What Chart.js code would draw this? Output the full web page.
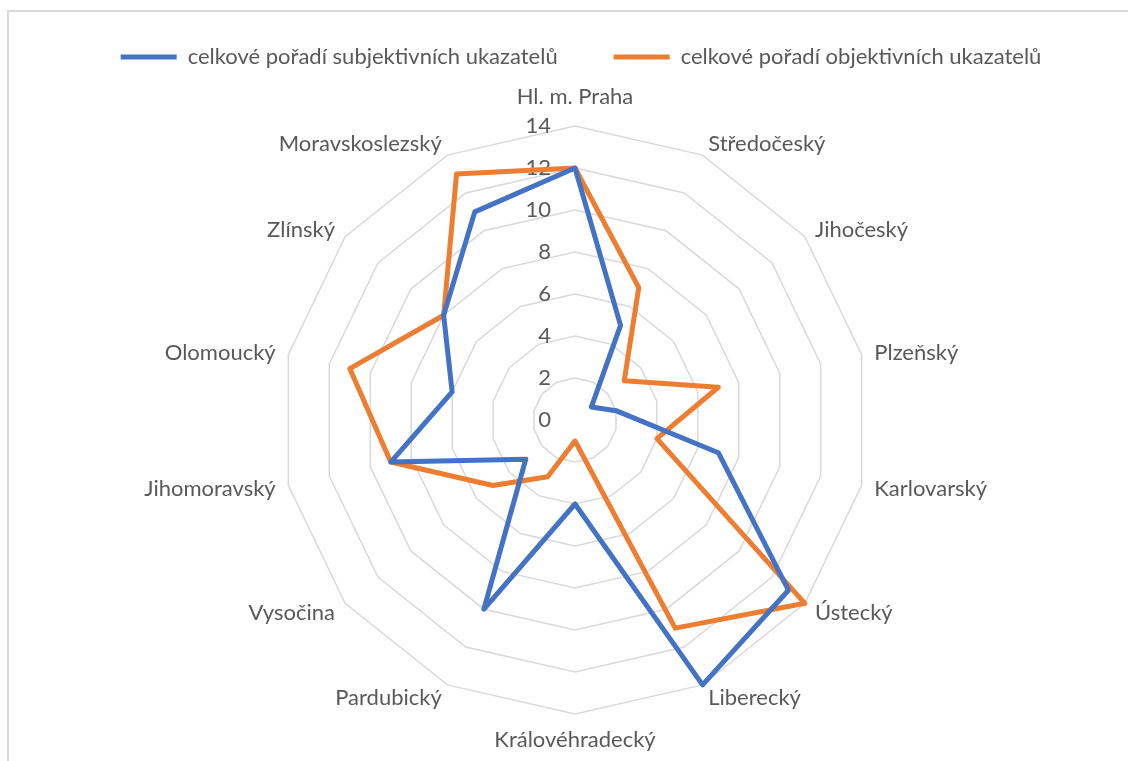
<!DOCTYPE html>
<html>
<head>
<meta charset="utf-8">
<script src="https://cdn.jsdelivr.net/npm/chart.js@4"></script>
<style>
    body { margin: 0; background: #fff; }
    #frame { position: absolute; left: 7px; top: 10px; width: 1200px; height: 800px; border: 2px solid #d9d9d9; }
    #wrap { position: absolute; left: 0; top: 0; width: 1128px; height: 761px; }
</style>
</head>
<body>
<div id="frame"></div>
<div id="wrap"><canvas id="radarChart" width="1128" height="761"></canvas></div>
<script>
// Regions, clockwise from the top
const regions = ['Hl. m. Praha', 'Středočeský', 'Jihočeský', 'Plzeňský', 'Karlovarský', 'Ústecký', 'Liberecký',
    'Královéhradecký', 'Pardubický', 'Vysočina', 'Jihomoravský', 'Olomoucký', 'Zlínský', 'Moravskoslezský'];
const subjective = [12, 5, 1, 2, 7, 13, 14, 4, 10, 3, 9, 6, 8, 11];
const objective = [12, 7, 3, 7, 4, 14, 11, 1, 3, 5, 9, 11, 8, 13];
const tickValues = [0, 2, 4, 6, 8, 10, 12, 14];

const fontFamily = 'Lato, "Open Sans", sans-serif';
const textColor = '#595959';

// tick labels sit left of the vertical axis, under the series lines
const tickLabels = {
    id: 'tickLabels',
    beforeDatasetsDraw(chart) {
        const r = chart.scales.r;
        const ctx = chart.ctx;
        ctx.save();
        ctx.font = '22px ' + fontFamily;
        ctx.fillStyle = textColor;
        ctx.textAlign = 'right';
        ctx.textBaseline = 'middle';
        tickValues.forEach(v => {
            ctx.fillText(String(v), r.xCenter - 24, r.yCenter - r.getDistanceFromCenterForValue(v));
        });
        ctx.restore();
    }
};

// category labels placed the Excel way: vertically centred on the spoke
const regionLabels = {
    id: 'regionLabels',
    afterDraw(chart) {
        const r = chart.scales.r;
        const ctx = chart.ctx;
        ctx.save();
        ctx.font = '22px ' + fontFamily;
        ctx.fillStyle = textColor;
        ctx.textBaseline = 'middle';
        const half = regions.length / 2;
        regions.forEach((name, i) => {
            if (i === 0 || i === half) {
                const p = r.getPointPosition(i, r.drawingArea + (i === 0 ? 29 : 26));
                ctx.textAlign = 'center';
                ctx.fillText(name, p.x, p.y);
            } else {
                const p = r.getPointPosition(i, r.drawingArea + 13);
                ctx.textAlign = i < half ? 'left' : 'right';
                ctx.fillText(name, p.x, p.y + 1);
            }
        });
        ctx.restore();
    }
};

// fixed legend block height, legend nudged a little to the right
const legendLayout = {
    id: 'legendLayout',
    beforeInit(chart) {
        const origFit = chart.legend.fit;
        chart.legend.fit = function () {
            origFit.call(this);
            this.height = 136;
        };
    },
    afterLayout(chart) {
        chart.legend.left += 6;
        chart.legend.right += 6;
    }
};

const ctx = document.getElementById('radarChart').getContext('2d');
new Chart(ctx, {
    type: 'radar',
    data: {
        labels: regions,
        datasets: [{
            label: 'celkové pořadí subjektivních ukazatelů',
            data: subjective,
            borderColor: '#4472C4',
            backgroundColor: '#4472C4',
            borderWidth: 5,
            borderCapStyle: 'round',
            borderJoinStyle: 'round',
            fill: false,
            pointRadius: 0,
            pointHoverRadius: 0
        }, {
            label: 'celkové pořadí objektivních ukazatelů',
            data: objective,
            borderColor: '#ED7D31',
            backgroundColor: '#ED7D31',
            borderWidth: 5,
            borderCapStyle: 'round',
            borderJoinStyle: 'round',
            fill: false,
            pointRadius: 0,
            pointHoverRadius: 0
        }]
    },
    options: {
        responsive: false,
        animation: false,
        layout: { padding: { top: -10, bottom: 47, left: 30, right: 8 } },
        plugins: {
            tooltip: { enabled: false },
            legend: {
                position: 'top',
                labels: {
                    usePointStyle: true,
                    pointStyle: 'line',
                    pointStyleWidth: 56,
                    padding: 56,
                    color: textColor,
                    font: { family: fontFamily, size: 22 }
                }
            }
        },
        scales: {
            r: {
                min: 0,
                max: 14,
                ticks: { stepSize: 2, display: false },
                grid: { color: '#d9d9d9', lineWidth: 1.5 },
                angleLines: { display: false },
                pointLabels: { display: false }
            }
        }
    },
    plugins: [tickLabels, regionLabels, legendLayout]
});
</script>
</body>
</html>
